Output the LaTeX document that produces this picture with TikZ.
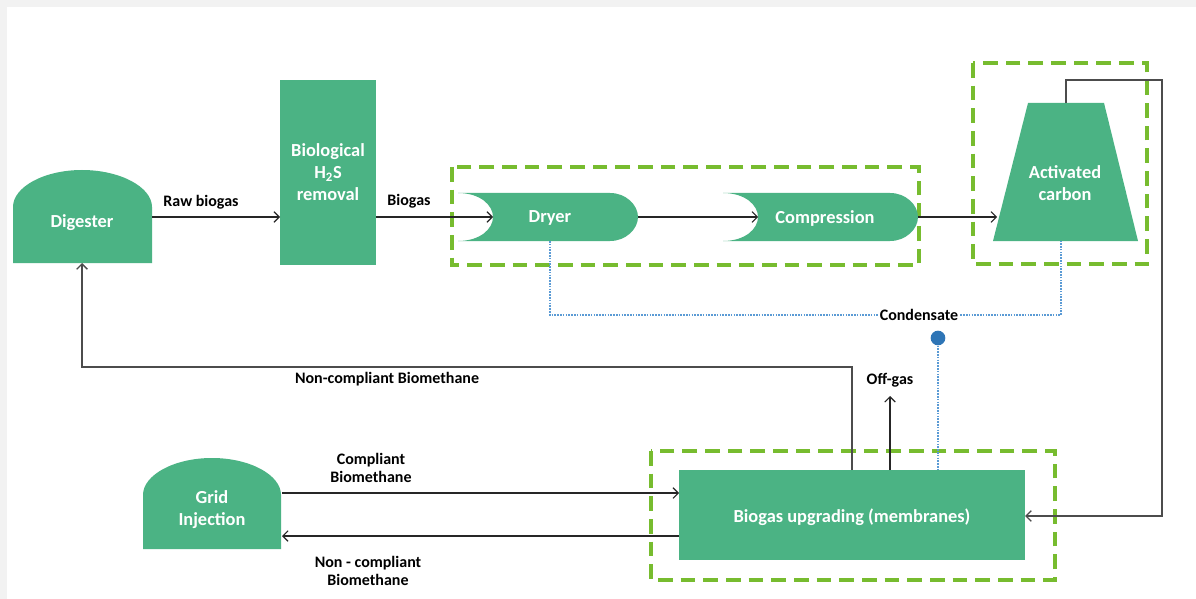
\documentclass[tikz,border=0pt]{standalone}
\usepackage{fontspec}
\setmainfont{Carlito}
\usetikzlibrary{arrows.meta}
\definecolor{boxgreen}{HTML}{4BB384}
\definecolor{dashgreen}{HTML}{77BC2F}
\definecolor{condblue}{HTML}{5B9BD5}
\definecolor{dotblue}{HTML}{2E75B6}
\definecolor{bggray}{HTML}{F2F2F2}
\begin{document}
\begin{tikzpicture}[x=0.75pt,y=-0.75pt,
  proc/.style={fill=boxgreen, draw=none},
  lbl/.style={font=\bfseries\fontsize{12}{14}\selectfont, text=black, align=center, inner sep=1pt},
  ntext/.style={font=\bfseries\fontsize{13.8}{16.5}\selectfont, text=white, align=center},
  flow/.style={draw=black!85, line width=0.8pt, -{Straight Barb[length=4pt,width=8pt]}},
  plain/.style={draw=black!70, line width=1pt},
  grp/.style={draw=dashgreen, line width=2.3pt, dash pattern=on 11pt off 6pt},
  cond/.style={draw=condblue, line width=0.9pt, dash pattern=on 1.2pt off 0.9pt}]
\useasboundingbox (0,0) rectangle (1196,599);
\fill[bggray] (0,0) rectangle (1196,599);
\fill[white] (7,7) rectangle (1196,599);

% group boxes
\draw[grp] (452,167) rectangle (919,265);
\draw[grp] (973,63) rectangle (1147,264);
\draw[grp] (651,451) rectangle (1055,580);

% Digester
\fill[proc] (13,263) -- (13,207) .. controls (13,187) and (44,170) .. (82,170)
  .. controls (120,170) and (152,187) .. (152,207) -- (152,263) -- cycle;
\node[ntext] (dig) at (82,223) {Digester};
\coordinate (digR) at (152,217);
\coordinate (digB) at (82,263);

% H2S removal
\fill[proc] (280,80) rectangle (376,265);
\node[ntext] (h2s) at (328,172) {Biological\\H\textsubscript{2}S\\removal};
\coordinate (h2sL) at (280,217);
\coordinate (h2sR) at (376,217);

% Dryer
\fill[proc] (458,193) .. controls (480,193) and (493,205) .. (493,217)
  .. controls (493,229) and (480,241) .. (458,241) -- (610,241)
  .. controls (626,241) and (638,229) .. (638,217)
  .. controls (638,205) and (626,193) .. (610,193) -- cycle;
\node[ntext] (dry) at (550,218) {Dryer};
\coordinate (dryL) at (493,217);
\coordinate (dryR) at (638,217);
\coordinate (dryB) at (550,241);

% Compression
\fill[proc] (723,193) .. controls (745,193) and (758,205) .. (758,217)
  .. controls (758,229) and (745,241) .. (723,241) -- (890,241)
  .. controls (906,241) and (918,229) .. (918,217)
  .. controls (918,205) and (906,193) .. (890,193) -- cycle;
\node[ntext] (comp) at (825,218) {Compression};
\coordinate (compL) at (758,217);
\coordinate (compR) at (918,217);

% Activated carbon
\fill[proc] (1028,103) -- (1104,103) -- (1138,241) -- (993,241) -- cycle;
\node[ntext] (ac) at (1065,183) {Activated\\carbon};
\coordinate (acL) at (997,217);
\coordinate (acT) at (1066,103);
\coordinate (acB) at (1061,241);

% Biogas upgrading
\fill[proc] (679,470) rectangle (1025,560);
\node[ntext] (up) at (852,517) {Biogas upgrading (membranes)};
\coordinate (upR) at (1025,516);
\coordinate (upL1) at (679,493);
\coordinate (upL2) at (679,536);
\coordinate (upT1) at (852,470);
\coordinate (upT2) at (890,470);
\coordinate (upT3) at (938,470);

% Grid Injection
\fill[proc] (143,549) -- (143,495) .. controls (143,475) and (174,458) .. (212,458)
  .. controls (250,458) and (281,475) .. (281,495) -- (281,549) -- cycle;
\node[ntext] (grid) at (212,510) {Grid\\Injection};
\coordinate (gridR1) at (282,493);
\coordinate (gridR2) at (282,536);

% main flow
\draw[flow] (digR) -- (h2sL);
\node[lbl] (lraw) at (201,202) {Raw biogas};
\draw[flow] (h2sR) -- (dryL);
\node[lbl] (lbio) at (409,201) {Biogas};
\draw[flow] (dryR) -- (compL);
\draw[flow] (compR) -- (acL);

% activated carbon -> upgrading
\draw[plain, -{Straight Barb[length=4pt,width=8pt]}] (acT) -- (1066,80) -- (1162,80) -- (1162,516) -- (upR);

% condensate
\draw[cond] (dryB) -- (550,315) -- (1061,315) -- (acB);
\node[lbl, fill=white, inner sep=0.5pt] (lcond) at (919,315) {Condensate};
\node[circle, fill=dotblue, minimum size=11pt, inner sep=0pt] (dot) at (938,338) {};
\draw[cond] (dot) -- (upT3);

% off-gas
\coordinate (offtip) at (890,396);
\draw[flow] (upT2) -- (offtip);
\node[lbl] (loff) at (890,380) {Off-gas};

% non-compliant back to digester
\draw[plain, -{Straight Barb[length=4pt,width=8pt]}] (upT1) -- (852,367) -- (82,367) -- (digB);
\node[lbl] (lnc) at (387,379) {Non-compliant Biomethane};

% grid flows
\draw[flow] (gridR1) -- (upL1);
\node[lbl] (lcomp) at (371,468) {Compliant\\Biomethane};
\draw[flow] (upL2) -- (gridR2);
\node[lbl] (lnon) at (368,571) {Non - compliant\\Biomethane};
\end{tikzpicture}
\end{document}
